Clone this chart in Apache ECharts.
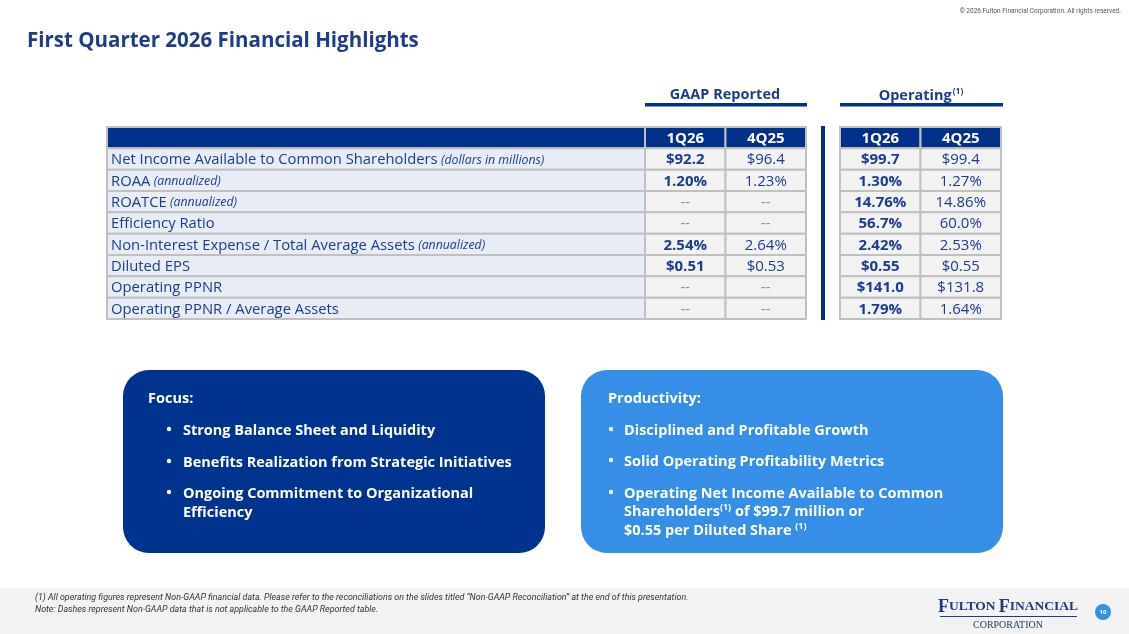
<!DOCTYPE html>
<html>
<head>
<meta charset="utf-8">
<script src="https://cdn.jsdelivr.net/npm/echarts@6/dist/echarts.min.js"></script>
<style>
  html, body { margin: 0; padding: 0; background: #fff; }
  #main { width: 1129px; height: 634px; }
</style>
</head>
<body>
<div id="main"></div>
<script>
// table data
var rowLabels = ['Net Income Available to Common Shareholders', 'ROAA', 'ROATCE', 'Efficiency Ratio',
  'Non-Interest Expense / Total Average Assets', 'Diluted EPS', 'Operating PPNR', 'Operating PPNR / Average Assets'];
var rowNotes = ['(dollars in millions)', '(annualized)', '(annualized)', '', '(annualized)', '', '', ''];
var periods = ['1Q26', '4Q25'];
var gaap1Q26 = ['$92.2', '1.20%', '--', '--', '2.54%', '$0.51', '--', '--'];
var gaap4Q25 = ['$96.4', '1.23%', '--', '--', '2.64%', '$0.53', '--', '--'];
var op1Q26 = ['$99.7', '1.30%', '14.76%', '56.7%', '2.42%', '$0.55', '$141.0', '1.79%'];
var op4Q25 = ['$99.4', '1.27%', '14.86%', '60.0%', '2.53%', '$0.55', '$131.8', '1.64%'];

var NAVY = '#00318a';
var TEXT = '#1d3c8f';
var FONT = 'Open Sans';

var rowCats = ['hdr'].concat(rowLabels);

var chartDom = document.getElementById('main');
var myChart = echarts.init(chartDom);

// cells: [col, row, text, kind]
function buildCells(colA, colB) {
  var out = [[0, 0, periods[0], 'hdr'], [1, 0, periods[1], 'hdr']];
  colA.forEach(function (v, i) { out.push([0, i + 1, v, 'bold']); });
  colB.forEach(function (v, i) { out.push([1, i + 1, v, 'reg']); });
  return out;
}
var labelCells = [[0, 0, '', 'hdr']];
rowLabels.forEach(function (l, i) { labelCells.push([0, i + 1, l, 'label']); });

function makeRender(cells) {
  return function (params, api) {
    var c = cells[params.dataIndex];
    var p = api.coord([c[0], c[1]]);
    var s = api.size([1, 1]);
    var x = p[0] - s[0] / 2, y = p[1] - s[1] / 2;
    var fill = c[3] === 'hdr' ? NAVY : (c[3] === 'label' ? '#e8ecf5' : '#f2f2f2');
    var children = [{
      type: 'rect',
      shape: { x: x, y: y, width: s[0], height: s[1] },
      style: { fill: fill, stroke: '#c0c0c0', lineWidth: 2 }
    }];
    if (c[3] === 'label') {
      var note = rowNotes[c[1] - 1];
      children.push({
        type: 'text',
        style: {
          x: x + 4, y: p[1] + 1,
          text: '{a|' + c[2] + '}' + (note ? ' {b|' + note + '}' : ''),
          verticalAlign: 'middle', align: 'left',
          rich: {
            a: { fontFamily: FONT, fontSize: 14.8, fill: TEXT },
            b: { fontFamily: FONT, fontSize: 12.3, fontStyle: 'italic', fill: TEXT }
          }
        }
      });
    } else if (c[2]) {
      var dash = c[2] === '--';
      children.push({
        type: 'text',
        style: {
          x: p[0], y: p[1] + 1, text: c[2], align: 'center', verticalAlign: 'middle',
          fontFamily: FONT, fontSize: 15,
          fontWeight: (c[3] === 'reg' || dash) ? 'normal' : 'bold',
          fill: c[3] === 'hdr' ? '#fff' : (dash ? '#7d8bb5' : TEXT)
        }
      });
    }
    return { type: 'group', children: children };
  };
}

var gaapCells = buildCells(gaap1Q26, gaap4Q25);
var opCells = buildCells(op1Q26, op4Q25);

function axes(idx, cols) {
  return {
    x: { type: 'category', gridIndex: idx, data: cols, show: false },
    y: { type: 'category', gridIndex: idx, data: rowCats, inverse: true, show: false }
  };
}
var a0 = axes(0, ['label']), a1 = axes(1, periods), a2 = axes(2, periods);

var B = { fontFamily: FONT, fontSize: 14.5, fontWeight: 'bold', fill: '#fff' };
function boxText(x, y, txt) {
  return { type: 'text', style: Object.assign({ x: x, y: y + 1.5, text: txt, verticalAlign: 'middle' }, B) };
}
function bullet(x, y) {
  return { type: 'circle', shape: { cx: x, cy: y, r: 2.2 }, style: { fill: '#fff' } };
}
var supRich = {
  a: Object.assign({ lineHeight: 18 }, B),
  s: { fontFamily: FONT, fontSize: 9, fontWeight: 'bold', fill: '#fff', verticalAlign: 'top', lineHeight: 18, padding: [0, 0, 6, 0] }
};

option = {
  backgroundColor: '#fff',
  animation: false,
  grid: [
    { left: 107, top: 127, width: 538, height: 192 },
    { left: 645, top: 127, width: 161, height: 192 },
    { left: 840, top: 127, width: 161, height: 192 }
  ],
  xAxis: [a0.x, a1.x, a2.x],
  yAxis: [a0.y, a1.y, a2.y],
  series: [
    { type: 'custom', xAxisIndex: 0, yAxisIndex: 0, renderItem: makeRender(labelCells),
      data: labelCells.map(function (c) { return [c[0], c[1]]; }) },
    { type: 'custom', xAxisIndex: 1, yAxisIndex: 1, renderItem: makeRender(gaapCells),
      data: gaapCells.map(function (c) { return [c[0], c[1]]; }) },
    { type: 'custom', xAxisIndex: 2, yAxisIndex: 2, renderItem: makeRender(opCells),
      data: opCells.map(function (c) { return [c[0], c[1]]; }) }
  ],
  graphic: [
    // footer band
    { type: 'rect', shape: { x: 0, y: 588, width: 1129, height: 46 }, style: { fill: '#f2f2f2' }, z: -1 },
    { type: 'text', style: { x: 1121, y: 11, text: '\u00a9 2026 Fulton Financial Corporation. All rights reserved.',
      align: 'right', verticalAlign: 'middle', fontFamily: 'Roboto', fontSize: 6.5, fill: '#555' } },
    { type: 'text', style: { x: 27, y: 41, text: 'First Quarter 2026 Financial Highlights',
      verticalAlign: 'middle', fontFamily: FONT, fontSize: 20.5, fontWeight: 'bold', fill: '#1f3b8c' } },
    // group headers
    { type: 'text', style: { x: 725, y: 95, text: 'GAAP Reported', align: 'center', verticalAlign: 'middle',
      fontFamily: FONT, fontSize: 14.5, fontWeight: 'bold', fill: TEXT } },
    { type: 'rect', shape: { x: 645, y: 103, width: 162, height: 3.5 }, style: { fill: NAVY } },
    { type: 'text', style: { x: 921, y: 96, text: '{a|Operating}{s|(1)}', align: 'center', verticalAlign: 'middle',
      rich: { a: { fontFamily: FONT, fontSize: 14.5, fontWeight: 'bold', fill: TEXT, lineHeight: 18 },
              s: { fontFamily: FONT, fontSize: 8.5, fontWeight: 'bold', fill: TEXT, verticalAlign: 'top', lineHeight: 18, padding: [0, 0, 6, 1] } } } },
    { type: 'rect', shape: { x: 840, y: 103, width: 163, height: 3.5 }, style: { fill: NAVY } },
    { type: 'rect', shape: { x: 821, y: 126, width: 4, height: 194 }, style: { fill: NAVY } },
    // focus box
    { type: 'rect', shape: { x: 123, y: 370, width: 422, height: 183, r: 26 }, style: { fill: '#00338d' } },
    boxText(148, 397, 'Focus:'),
    bullet(169, 429), boxText(183, 429, 'Strong Balance Sheet and Liquidity'),
    bullet(169, 461), boxText(183, 461, 'Benefits Realization from Strategic Initiatives'),
    bullet(169, 492), boxText(183, 492, 'Ongoing Commitment to Organizational'),
    boxText(183, 511, 'Efficiency'),
    // productivity box
    { type: 'rect', shape: { x: 581, y: 370, width: 422, height: 183, r: 26 }, style: { fill: '#378ee6' } },
    boxText(608, 397, 'Productivity:'),
    bullet(611, 429), boxText(624, 429, 'Disciplined and Profitable Growth'),
    bullet(611, 460), boxText(624, 460, 'Solid Operating Profitability Metrics'),
    bullet(611, 492), boxText(624, 492, 'Operating Net Income Available to Common'),
    { type: 'text', style: { x: 624, y: 511.5, text: '{a|Shareholders}{s|(1)}{a| of $99.7 million or}', verticalAlign: 'middle', rich: supRich } },
    { type: 'text', style: { x: 624, y: 530.5, text: '{a|$0.55 per Diluted Share }{s|(1)}', verticalAlign: 'middle', rich: supRich } },
    // footnotes
    { type: 'text', style: { x: 35, y: 598, text: '(1) All operating figures represent Non-GAAP financial data. Please refer to the reconciliations on the slides titled \u201cNon-GAAP Reconciliation\u201d at the end of this presentation.',
      verticalAlign: 'middle', fontFamily: 'Roboto', fontSize: 8.9, fontStyle: 'italic', fill: '#333' } },
    { type: 'text', style: { x: 35, y: 610, text: 'Note: Dashes represent Non-GAAP data that is not applicable to the GAAP Reported table.',
      verticalAlign: 'middle', fontFamily: 'Roboto', fontSize: 8.9, fontStyle: 'italic', fill: '#333' } },
    // logo
    { type: 'text', style: { x: 1008, y: 607, text: '{b|F}{s|ULTON }{b|F}{s|INANCIAL}', align: 'center', verticalAlign: 'middle',
      rich: { b: { fontFamily: 'Liberation Serif', fontSize: 18, fontWeight: 'bold', fill: '#1f3b7a' },
              s: { fontFamily: 'Liberation Serif', fontSize: 13.5, fontWeight: 'bold', fill: '#1f3b7a' } } } },
    { type: 'rect', shape: { x: 940, y: 616, width: 137, height: 1 }, style: { fill: '#1f3b7a' } },
    { type: 'text', style: { x: 1008, y: 625, text: 'CORPORATION', align: 'center', verticalAlign: 'middle',
      fontFamily: 'Liberation Serif', fontSize: 10, fill: '#1f3b7a' } },
    { type: 'circle', shape: { cx: 1103, cy: 612, r: 8 }, style: { fill: '#378ee6' } },
    { type: 'text', style: { x: 1103, y: 612, text: '10', align: 'center', verticalAlign: 'middle',
      fontFamily: FONT, fontSize: 6, fontWeight: 'bold', fill: '#fff' } }
  ]
};

option && myChart.setOption(option);
</script>
</body>
</html>
